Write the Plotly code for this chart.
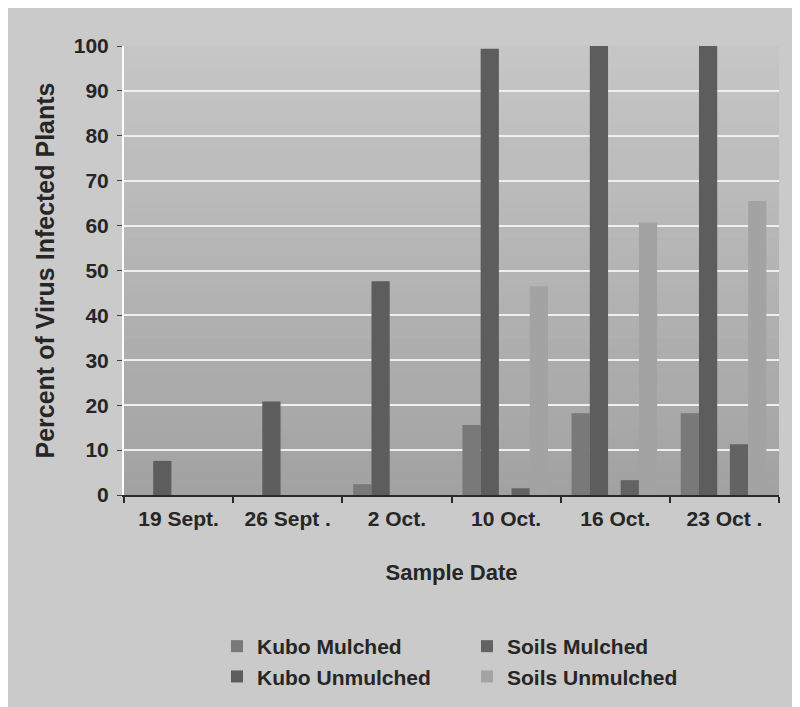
import plotly.graph_objects as go

dates = ["19 Sept.", "26 Sept .", "2 Oct.", "10 Oct.", "16 Oct.", "23 Oct ."]
kubo_mulched = [0, 0, 2.4, 15.6, 18.2, 18.2]
kubo_unmulched = [7.6, 20.8, 47.6, 99.4, 100, 100]
soils_mulched = [0, 0, 0, 1.5, 3.3, 11.3]
soils_unmulched = [0, 0, 0, 46.5, 60.7, 65.5]

series = [
    ("Kubo Mulched", kubo_mulched, "#797979", -0.40, 1),
    ("Kubo Unmulched", kubo_unmulched, "#5d5d5d", -0.233, 3),
    ("Soils Mulched", soils_mulched, "#636363", 0.05, 2),
    ("Soils Unmulched", soils_unmulched, "#a3a3a3", 0.217, 4),
]

FONT = "Liberation Sans, Arial, sans-serif"
TXT = "#262626"
fig = go.Figure()
for name, vals, col, off, rank in series:
    fig.add_trace(go.Bar(
        x=dates, y=vals, name=name, marker=dict(color=col, line=dict(width=0)),
        offset=off, width=0.167, legendrank=rank,
    ))

# page body has an 8px margin; coordinates below are screen pixels
OFF = 8
W, H = 808, 715
L, R, T, B = 124 - OFF, W - (779 - OFF), 46 - OFF, H - (495 - OFF)
pw, ph = W - L - R, H - T - B

def px_x(p):
    return (p - OFF - L) / pw

def px_y(p):
    return (H - B - (p - OFF)) / ph

shapes = []
n = 40
top = (0xc6, 0xc6, 0xc6)
bot = (0xa2, 0xa2, 0xa2)
for i in range(n):
    t = (i + 0.5) / n
    c = tuple(int(round(top[k] + (bot[k] - top[k]) * t)) for k in range(3))
    shapes.append(dict(type="rect", xref="paper", yref="paper", layer="below",
                       x0=0, x1=1, y0=1 - (i + 1) / n, y1=1 - i / n + 0.001,
                       fillcolor="rgb(%d,%d,%d)" % c, line=dict(width=0)))

fig.update_layout(
    width=W, height=H,
    margin=dict(l=L, r=R, t=T, b=B, autoexpand=False),
    paper_bgcolor="#cacaca", plot_bgcolor="rgba(0,0,0,0)",
    barmode="overlay",
    font=dict(family=FONT, color=TXT, size=18),
    shapes=shapes,
    showlegend=True,
    legend=dict(orientation="h", x=px_x(217), xanchor="left", y=px_y(626), yanchor="top",
                entrywidth=205, entrywidthmode="pixels", bgcolor="rgba(0,0,0,0)",
                font=dict(size=21, family=FONT, color=TXT, weight="bold"),
                itemwidth=30, tracegroupgap=0),
    xaxis=dict(
        type="category", range=[-0.5, 5.5], tickson="boundaries",
        showline=True, linecolor="#2a2a2a", linewidth=2,
        ticks="outside", ticklen=6, tickcolor="#2a2a2a", tickwidth=1.5,
        showgrid=False,
        tickfont=dict(size=21, family=FONT, color=TXT, weight="bold"),
        ticklabelstandoff=4,
        title=dict(text="Sample Date", standoff=35,
                   font=dict(size=22, family=FONT, color=TXT, weight="bold")),
    ),
    yaxis=dict(
        range=[0, 100], dtick=10, showline=True, linecolor="white", linewidth=2,
        showgrid=True, gridcolor="#efefef", gridwidth=1.5, zeroline=False,
        ticks="outside", ticklen=5, tickcolor="#444", tickwidth=1,
        tickfont=dict(size=21, family=FONT, color=TXT, weight="bold"),
        ticklabelstandoff=4,
        title=dict(text="Percent of Virus Infected Plants", standoff=12,
                   font=dict(size=25, family=FONT, color=TXT, weight="bold")),
    ),
)

fig.write_html("out.html")
